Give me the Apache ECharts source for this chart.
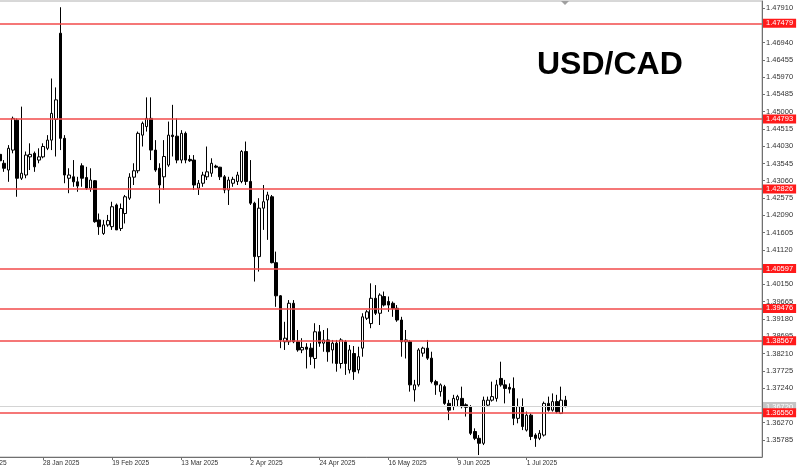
<!DOCTYPE html>
<html>
<head>
<meta charset="utf-8">
<script src="https://cdn.jsdelivr.net/npm/echarts@6/dist/echarts.min.js"></script>
<style>
  html, body { margin: 0; padding: 0; background: #fff; overflow: hidden; width: 800px; height: 470px; }
  #chart { position: absolute; left: -29px; top: 0; width: 829px; height: 470px; }
</style>
</head>
<body>
<div id="chart"></div>
<script>
// ---- Data (daily USD/CAD candles) ----
const xTickLabels = ['6 Jan 2025', '28 Jan 2025', '19 Feb 2025', '13 Mar 2025', '2 Apr 2025',
                     '24 Apr 2025', '16 May 2025', '9 Jun 2025', '1 Jul 2025'];
const barsPerLabel = 16;
const emptyBarsBefore = 6;
const emptyBarsAfter = 45;

const opens = [
  1.4380, 1.4355, 1.4336, 1.4392, 1.4476, 1.4313, 1.4322, 1.4373, 1.4383, 1.4364,
  1.4373, 1.4397, 1.4420, 1.4478, 1.4720, 1.4425, 1.4313, 1.4317, 1.4303, 1.4348,
  1.4315, 1.4285, 1.4306, 1.4196, 1.4158, 1.4182, 1.4177, 1.4238, 1.4172, 1.4214,
  1.4257, 1.4316, 1.4334, 1.4434, 1.4458, 1.4481, 1.4392, 1.4341, 1.4317, 1.4350,
  1.4434, 1.4431, 1.4364, 1.4439, 1.4366, 1.4364, 1.4285, 1.4299, 1.4317, 1.4327,
  1.4347, 1.4344, 1.4317, 1.4280, 1.4299, 1.4304, 1.4304, 1.4388, 1.4304, 1.4243,
  1.4093, 1.4229, 1.4252, 1.4261, 1.4076, 1.3983, 1.3854, 1.3854, 1.3962, 1.3854,
  1.3831, 1.3839, 1.3836, 1.3807, 1.3882, 1.3850, 1.3859, 1.3831, 1.3850, 1.3793,
  1.3854, 1.3775, 1.3821, 1.3775, 1.3836, 1.3920, 1.3905, 1.3976, 1.3934, 1.3981,
  1.3967, 1.3962, 1.3948, 1.3915, 1.3854, 1.3854, 1.3719, 1.3733, 1.3822, 1.3836,
  1.3808, 1.3742, 1.3714, 1.3728, 1.3681, 1.3672, 1.3691, 1.3695, 1.3677, 1.3672,
  1.3602, 1.3583, 1.3569, 1.3676, 1.3690, 1.3695, 1.3751, 1.3733, 1.3726, 1.3723,
  1.3639, 1.3672, 1.3606, 1.3648, 1.3592, 1.3583, 1.3592, 1.3681, 1.3662, 1.3686,
  1.3653, 1.3690
];
const closes = [
  1.4362, 1.4341, 1.4397, 1.4481, 1.4313, 1.4327, 1.4378, 1.4380, 1.4345, 1.4373,
  1.4402, 1.4420, 1.4495, 1.4533, 1.4425, 1.4322, 1.4322, 1.4303, 1.4291, 1.4313,
  1.4285, 1.4308, 1.4191, 1.4177, 1.4182, 1.4194, 1.4233, 1.4168, 1.4228, 1.4261,
  1.4316, 1.4334, 1.4439, 1.4467, 1.4481, 1.4392, 1.4336, 1.4294, 1.4374, 1.4434,
  1.4430, 1.4364, 1.4439, 1.4364, 1.4362, 1.4294, 1.4299, 1.4322, 1.4331, 1.4355,
  1.4344, 1.4317, 1.4280, 1.4308, 1.4310, 1.4322, 1.4388, 1.4304, 1.4243, 1.4093,
  1.4229, 1.4247, 1.4266, 1.4076, 1.3983, 1.3859, 1.3864, 1.3962, 1.3854, 1.3831,
  1.3838, 1.3833, 1.3812, 1.3882, 1.3850, 1.3859, 1.3826, 1.3850, 1.3793, 1.3859,
  1.3793, 1.3831, 1.3770, 1.3812, 1.3924, 1.3938, 1.3976, 1.3934, 1.3985, 1.3957,
  1.3957, 1.3948, 1.3915, 1.3854, 1.3859, 1.3733, 1.3733, 1.3831, 1.3836, 1.3808,
  1.3742, 1.3733, 1.3733, 1.3681, 1.3662, 1.3695, 1.3700, 1.3672, 1.3670, 1.3597,
  1.3583, 1.3569, 1.3690, 1.3690, 1.3700, 1.3733, 1.3733, 1.3723, 1.3721, 1.3639,
  1.3672, 1.3616, 1.3648, 1.3588, 1.3583, 1.3597, 1.3681, 1.3662, 1.3686, 1.3658,
  1.3690, 1.3672
];
const lows = [
  1.4355, 1.4331, 1.4303, 1.4383, 1.4261, 1.4308, 1.4313, 1.4336, 1.4331, 1.4355,
  1.4369, 1.4392, 1.4392, 1.4374, 1.4392, 1.4299, 1.4271, 1.4289, 1.4275, 1.4289,
  1.4280, 1.4275, 1.4188, 1.4154, 1.4154, 1.4177, 1.4168, 1.4168, 1.4165, 1.4186,
  1.4252, 1.4294, 1.4327, 1.4402, 1.4444, 1.4364, 1.4331, 1.4242, 1.4280, 1.4345,
  1.4374, 1.4355, 1.4355, 1.4355, 1.4359, 1.4280, 1.4266, 1.4289, 1.4308, 1.4317,
  1.4341, 1.4308, 1.4271, 1.4238, 1.4289, 1.4294, 1.4299, 1.4294, 1.4238, 1.4023,
  1.4051, 1.4168, 1.4140, 1.4074, 1.3952, 1.3836, 1.3831, 1.3845, 1.3850, 1.3826,
  1.3822, 1.3779, 1.3789, 1.3779, 1.3840, 1.3826, 1.3798, 1.3793, 1.3770, 1.3779,
  1.3761, 1.3765, 1.3747, 1.3765, 1.3812, 1.3915, 1.3892, 1.3929, 1.3901, 1.3953,
  1.3938, 1.3924, 1.3910, 1.3812, 1.3807, 1.3714, 1.3686, 1.3728, 1.3812, 1.3803,
  1.3737, 1.3705, 1.3700, 1.3677, 1.3634, 1.3662, 1.3672, 1.3667, 1.3644, 1.3592,
  1.3578, 1.3536, 1.3564, 1.3672, 1.3686, 1.3686, 1.3728, 1.3681, 1.3709, 1.3620,
  1.3625, 1.3606, 1.3602, 1.3578, 1.3559, 1.3578, 1.3588, 1.3658, 1.3658, 1.3653,
  1.3651, 1.3670
];
const highs = [
  1.4390, 1.4364, 1.4406, 1.4486, 1.4481, 1.4514, 1.4388, 1.4411, 1.4388, 1.4397,
  1.4411, 1.4434, 1.4593, 1.4568, 1.4793, 1.4434, 1.4341, 1.4364, 1.4317, 1.4355,
  1.4345, 1.4341, 1.4308, 1.4214, 1.4196, 1.4210, 1.4247, 1.4242, 1.4242, 1.4266,
  1.4327, 1.4355, 1.4444, 1.4472, 1.4540, 1.4540, 1.4420, 1.4355, 1.4420, 1.4472,
  1.4519, 1.4481, 1.4448, 1.4444, 1.4378, 1.4378, 1.4308, 1.4331, 1.4402, 1.4369,
  1.4351, 1.4345, 1.4322, 1.4317, 1.4317, 1.4331, 1.4392, 1.4416, 1.4364, 1.4247,
  1.4257, 1.4294, 1.4275, 1.4266, 1.4107, 1.3985, 1.3910, 1.3971, 1.3971, 1.3887,
  1.3864, 1.3850, 1.3850, 1.3906, 1.3901, 1.3887, 1.3892, 1.3859, 1.3859, 1.3864,
  1.3859, 1.3845, 1.3842, 1.3840, 1.3934, 1.3943, 1.4018, 1.4013, 1.3990, 1.3995,
  1.3981, 1.3967, 1.3957, 1.3924, 1.3887, 1.3859, 1.3747, 1.3836, 1.3840, 1.3859,
  1.3826, 1.3747, 1.3737, 1.3733, 1.3691, 1.3705, 1.3705, 1.3728, 1.3681, 1.3676,
  1.3611, 1.3592, 1.3700, 1.3700, 1.3742, 1.3747, 1.3798, 1.3747, 1.3737, 1.3754,
  1.3695, 1.3695, 1.3658, 1.3653, 1.3597, 1.3606, 1.3686, 1.3700, 1.3709, 1.3705,
  1.3728, 1.3702
];

// Horizontal support/resistance levels
const levels = [1.47479, 1.44793, 1.42826, 1.40597, 1.39476, 1.38567, 1.36550];
// Right-axis price labels
const yTickValues = [1.35785, 1.36270, 1.36755, 1.37240, 1.37725, 1.38210, 1.38695, 1.39180,
  1.39665, 1.40150, 1.40635, 1.41120, 1.41605, 1.42090, 1.42575, 1.43060, 1.43545, 1.44030,
  1.44515, 1.45000, 1.45485, 1.45970, 1.46455, 1.46940, 1.47425, 1.47910];

// ---- Build chart ----
const nBars = opens.length;
const nCats = emptyBarsBefore + nBars + emptyBarsAfter;
const categories = [];
const candleData = [];
for (let k = 0; k < nCats; k++) {
  categories.push('b' + k);
  const i = k - emptyBarsBefore;
  if (i >= 0 && i < nBars) candleData.push([opens[i], closes[i], lows[i], highs[i]]);
  else candleData.push('-');
}
const lastClose = closes[nBars - 1];
const isLabelIdx = (idx) => idx % barsPerLabel === 0 && (idx / barsPerLabel) < xTickLabels.length;

const RED = '#f24a4a';
const lineLabel = (text, bg) => ({
  show: true, position: 'end', distance: 1,
  formatter: () => text,
  color: '#ffffff', backgroundColor: bg,
  fontFamily: 'Liberation Sans', fontSize: 7.5, lineHeight: 8,
  padding: [1, 3, 0, 3]
});
const makeLevelSeries = (v, color, bg, width, z) => ({
  type: 'line',
  data: [],
  z: z,
  color: color,
  markLine: {
    silent: true, symbol: ['none', 'none'], animation: false, precision: 5,
    lineStyle: { color: color, width: width, type: 'solid', opacity: 1 },
    label: lineLabel(v.toFixed(5), bg),
    data: [{ yAxis: v }]
  }
});

const levelSeries = [makeLevelSeries(lastClose, '#d4d4d4', '#c4c4c4', 1, 1)]
  .concat(levels.map(v => makeLevelSeries(v, RED, '#ff1a1a', 1.5, 2)));

const SHIFT = 29; // chart div is shifted left by this many px
const chart = echarts.init(document.getElementById('chart'), null, { renderer: 'canvas' });
chart.setOption({
  animation: false,
  backgroundColor: '#ffffff',
  grid: {
    left: 0.4, right: 38, top: 1, bottom: 13,
    show: true, borderColor: '#b0b0b0', borderWidth: 1, backgroundColor: 'transparent'
  },
  xAxis: {
    type: 'category',
    data: categories,
    boundaryGap: true,
    axisLine: { show: true, lineStyle: { color: '#707070', width: 1 } },
    axisTick: { show: true, alignWithLabel: true, length: 3, interval: (idx) => isLabelIdx(idx),
                lineStyle: { color: '#707070' } },
    axisLabel: {
      show: true, interval: (idx) => isLabelIdx(idx),
      formatter: (val, idx) => xTickLabels[idx / barsPerLabel] || '',
      align: 'left', margin: 3, color: '#333',
      fontFamily: 'Liberation Sans', fontSize: 6.6
    },
    splitLine: { show: false }
  },
  yAxis: {
    type: 'value',
    position: 'right',
    min: 1.35305, max: 1.48105,
    axisLine: { show: true, lineStyle: { color: '#707070', width: 1 } },
    axisTick: { show: true, inside: false, length: 3, customValues: yTickValues,
                lineStyle: { color: '#707070' } },
    axisLabel: {
      show: true, customValues: yTickValues, margin: 4,
      formatter: (v) => v.toFixed(5),
      color: '#333', fontFamily: 'Liberation Sans', fontSize: 7.5
    },
    splitLine: { show: false }
  },
  series: [
    {
      type: 'candlestick',
      data: candleData,
      barWidth: 3,
      z: 3,
      itemStyle: {
        color: '#ffffff', color0: '#000000',
        borderColor: '#000000', borderColor0: '#000000', borderWidth: 1
      }
    }
  ].concat(levelSeries),
  graphic: [
    {
      type: 'text', left: 537 + SHIFT, top: 49,
      style: { text: 'USD/CAD', fill: '#000', font: 'bold 32px "Liberation Sans", Arial, sans-serif' }
    },
    {
      type: 'polygon',
      shape: { points: [[561 + SHIFT, 1], [569 + SHIFT, 1], [565 + SHIFT, 5]] },
      style: { fill: '#a0a0a0' }
    }
  ]
});
</script>
</body>
</html>
